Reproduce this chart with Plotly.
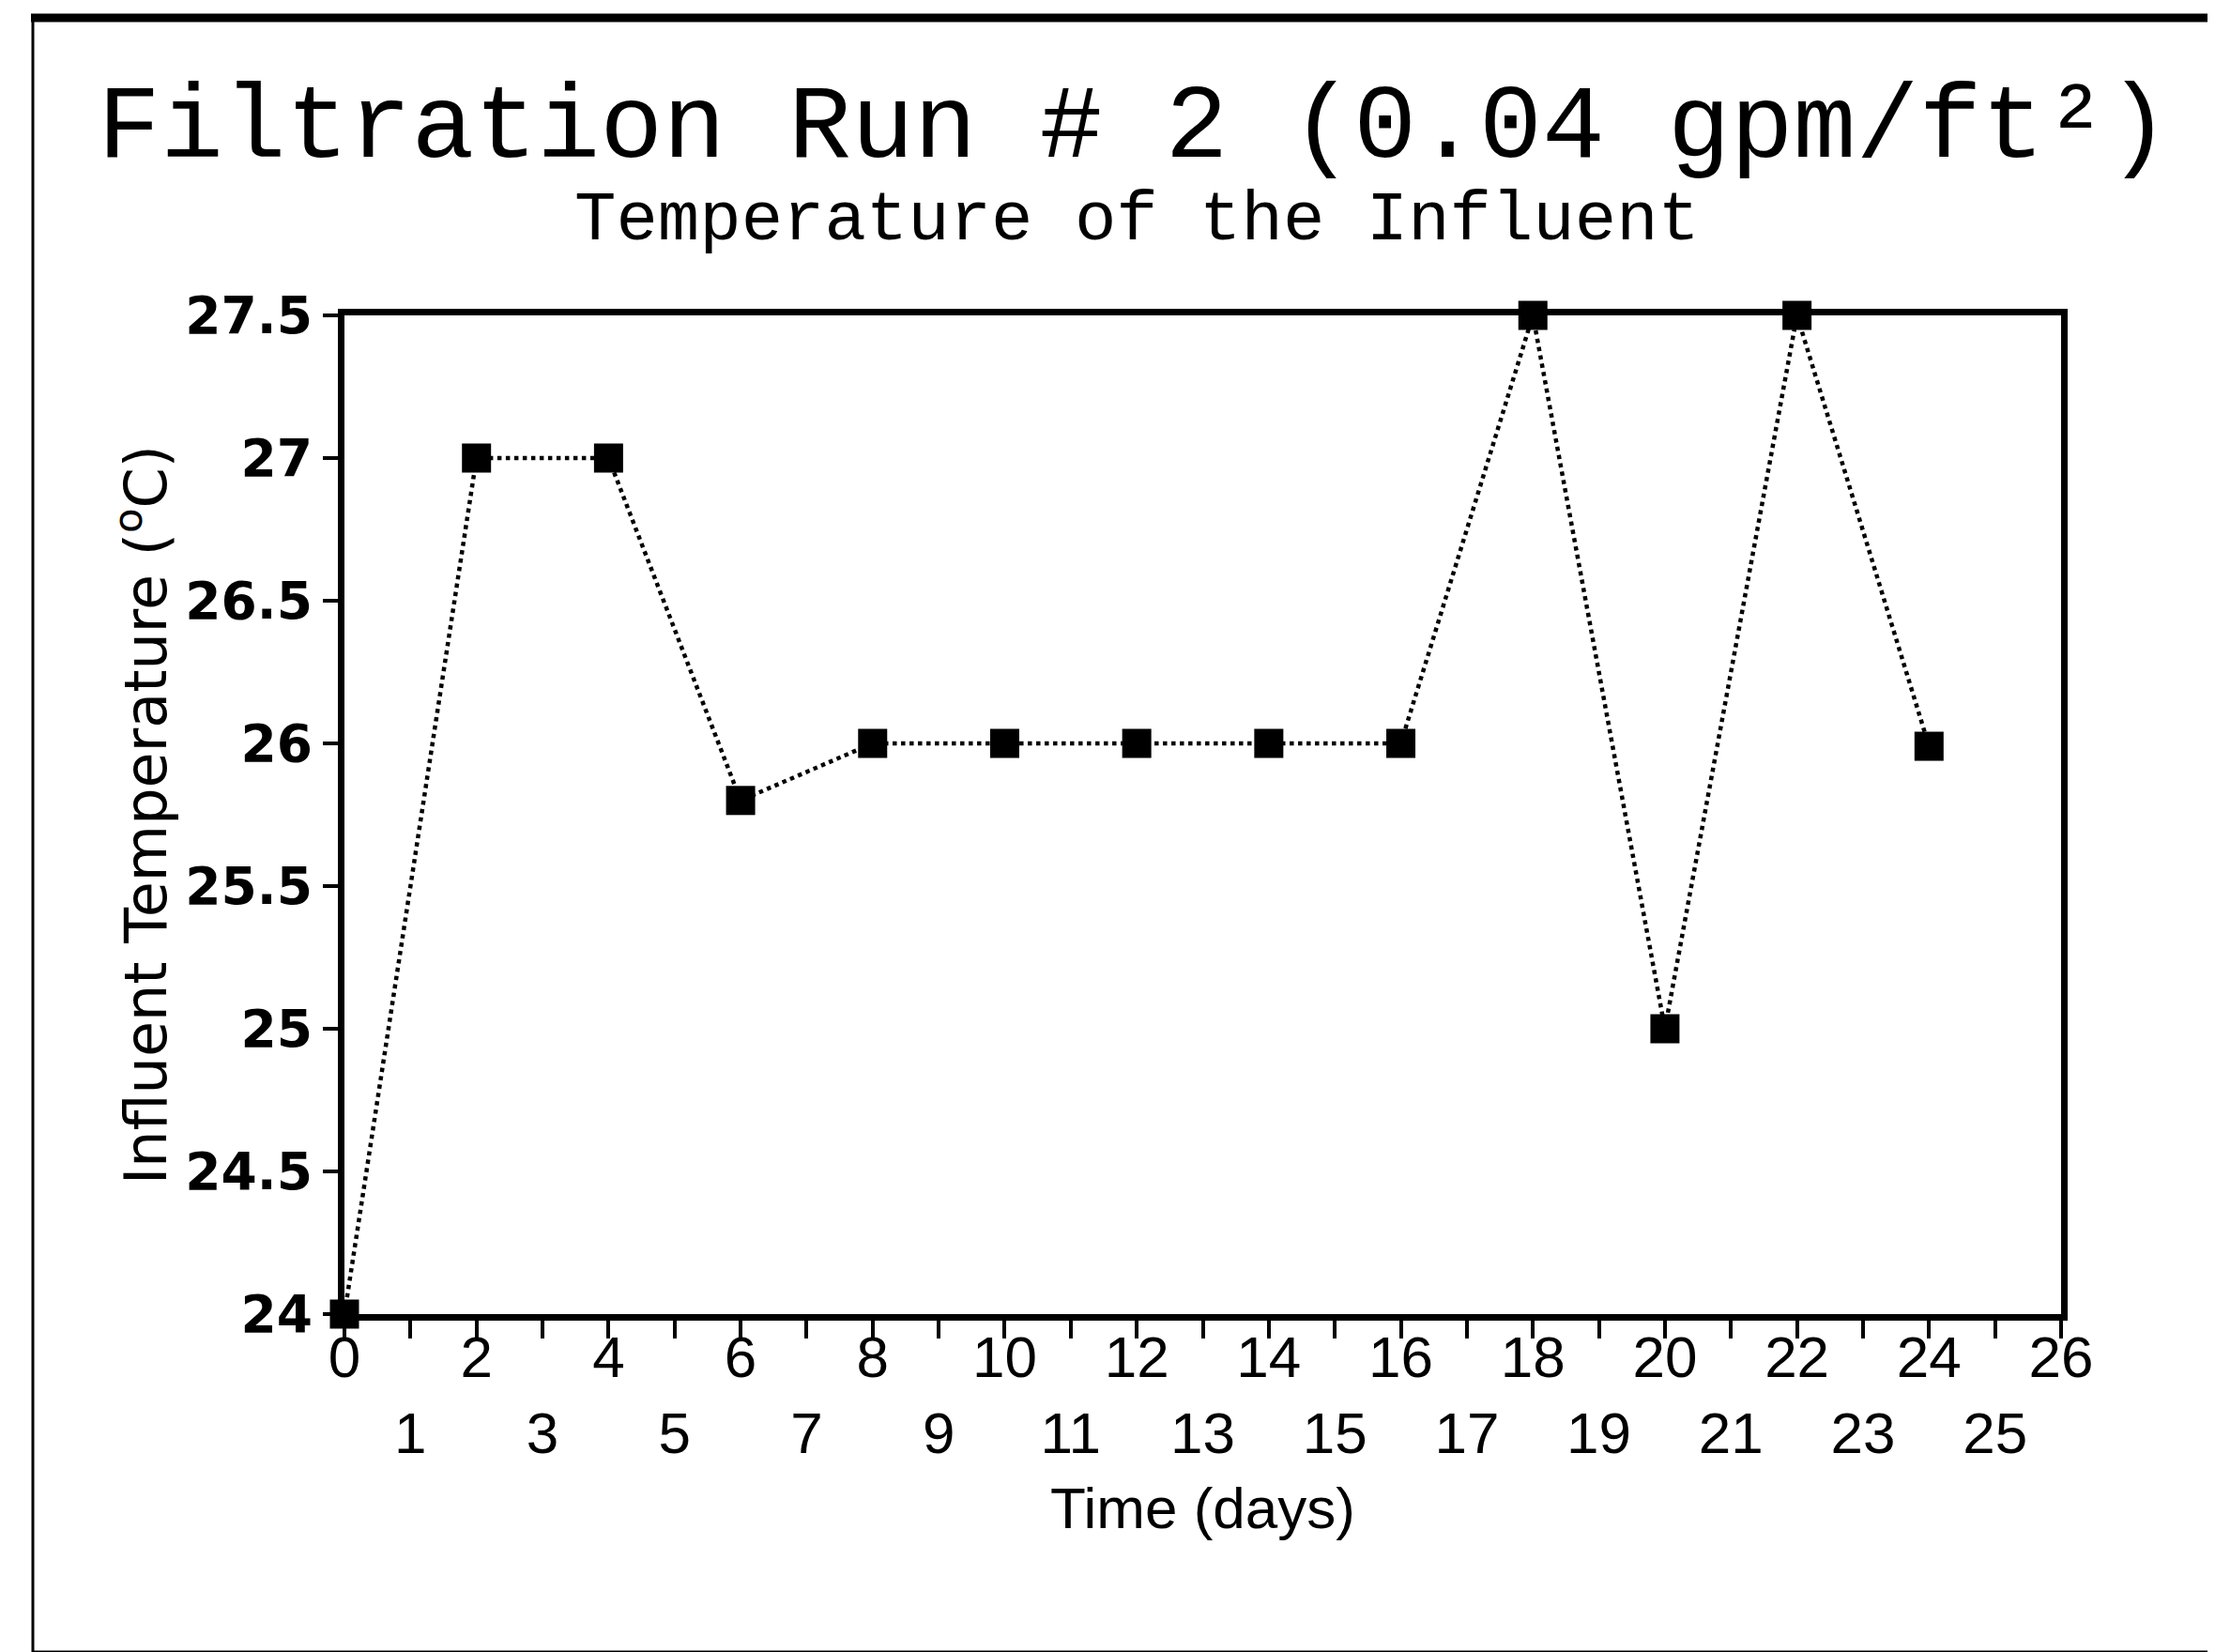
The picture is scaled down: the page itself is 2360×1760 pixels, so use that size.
import plotly.graph_objects as go

# Data
days = [0, 2, 4, 6, 8, 10, 12, 14, 16, 18, 20, 22, 24]
temperature = [24.0, 27.0, 27.0, 25.8, 26.0, 26.0, 26.0, 26.0, 26.0, 27.5, 25.0, 27.5, 25.99]

x_tick_vals = list(range(0, 27))
x_tick_text = [str(v) if v % 2 == 0 else "<br>" + str(v) for v in x_tick_vals]
y_tick_vals = [24, 24.5, 25, 25.5, 26, 26.5, 27, 27.5]
y_tick_text = ["24", "24.5", "25", "25.5", "26", "26.5", "27", "27.5"]

W, H = 2360, 1760
L, R, T, B = 359, 172, 328, 368
pw, ph = W - L - R, H - T - B


def px(x):
    return (x - L) / pw


def py(y):
    return (H - B - y) / ph


fig = go.Figure()
fig.add_trace(go.Scatter(
    x=days, y=temperature, mode="lines+markers",
    line=dict(color="black", width=4.5, dash="dot"),
    marker=dict(symbol="square", size=31, color="black"),
    cliponaxis=False, showlegend=False,
))

fig.update_layout(
    width=W, height=H,
    margin=dict(l=L, r=R, t=T, b=B, autoexpand=False),
    paper_bgcolor="white", plot_bgcolor="white",
    title=dict(
        text="Filtration Run # 2 (0.04 gpm/ft²)",
        x=1200 / W, xanchor="center", xref="container",
        y=1 - 120 / H, yanchor="middle", yref="container",
        font=dict(family="Liberation Mono", size=111.5, color="black"),
    ),
    xaxis=dict(
        range=[0, 26], tickmode="array", tickvals=x_tick_vals, ticktext=x_tick_text,
        tickangle=0,
        ticks="outside", ticklen=19, tickwidth=4, tickcolor="black",
        ticklabelstandoff=-33,
        showline=True, linewidth=7, linecolor="black", mirror=True,
        showgrid=False, zeroline=False,
        tickfont=dict(family="Liberation Sans", size=62, color="black"),
        title=dict(text="Time (days)", font=dict(family="Liberation Sans", size=62, color="black"), standoff=27),
    ),
    yaxis=dict(
        range=[24, 27.5], tickmode="array", tickvals=y_tick_vals, ticktext=y_tick_text,
        ticks="outside", ticklen=16, tickwidth=4, tickcolor="black",
        showline=True, linewidth=7, linecolor="black", mirror=True,
        showgrid=False, zeroline=False,
        tickfont=dict(family="DejaVu Sans", size=55, color="black", weight="bold"),
        title=dict(text="Influent Temperature (<sup>o</sup>C)",
                   font=dict(family="DejaVu Sans", size=62, color="black"), standoff=2),
    ),
    annotations=[
        dict(text="Temperature of the Influent", xref="paper", yref="paper",
             x=px(1203), y=py(227), xanchor="center", yanchor="middle", showarrow=False,
             font=dict(family="Liberation Mono", size=74, color="black")),
    ],
    shapes=[
        dict(type="line", xref="paper", yref="paper", x0=px(25), x1=px(2360), y0=py(11), y1=py(11),
             line=dict(color="black", width=9)),
        dict(type="line", xref="paper", yref="paper", x0=px(27), x1=px(27), y0=py(10), y1=py(1752),
             line=dict(color="black", width=3)),
        dict(type="line", xref="paper", yref="paper", x0=px(27), x1=px(2360), y0=py(1752), y1=py(1752),
             line=dict(color="black", width=3)),
    ],
)

fig.write_html("out.html")
